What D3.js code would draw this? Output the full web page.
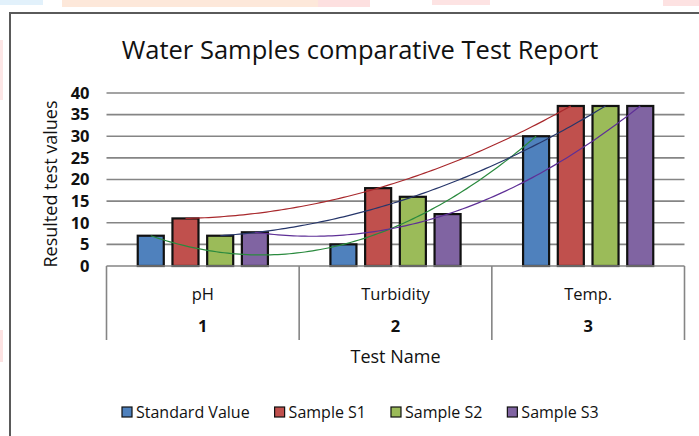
<!DOCTYPE html>
<html lang="en">
  <head>
    <meta charset="UTF-8">
    <script src="https://d3js.org/d3.v7.min.js"></script>
    <style>
      html,body{ margin:0; background:#fff; }
      text{ font-family:"Open Sans", sans-serif; fill:#111; }
    </style>
  </head>
  <body>
    <svg id="chart" width="699" height="436"></svg>
  </body>
</html>
<script>
// chart data
var categories = ["pH", "Turbidity", "Temp."];
var categoryNumbers = ["1", "2", "3"];
var seriesNames = ["Standard Value", "Sample S1", "Sample S2", "Sample S3"];
var standardValue = [7, 5, 30];
var sampleS1 = [11, 18, 37];
var sampleS2 = [7, 16, 37];
var sampleS3 = [7.8, 12, 37];
var yTicks = [0, 5, 10, 15, 20, 25, 30, 35, 40];

var seriesValues = [standardValue, sampleS1, sampleS2, sampleS3];
var barColors = ["#4f81bd", "#c0504d", "#9bbb59", "#8064a2"];
var trendColors = ["#2a8a3e", "#a8282c", "#26366a", "#5e2f96"];

var svg = d3.select("#chart");

// faint page background bits around the frame
var bg = [[0,0,43,5,"#e2f1fb"],[62,0,270,7,"#fde8da"],[318,0,52,7,"#fde0e0"],
          [432,0,58,5,"#fde3e3"],[663,0,36,6,"#fde2e2"],[0,40,3,60,"#fde6e6"],[0,330,3,32,"#fde2e2"]];
svg.selectAll("rect.bg").data(bg).enter().append("rect")
  .attr("x", d => d[0]).attr("y", d => d[1]).attr("width", d => d[2]).attr("height", d => d[3])
  .attr("fill", d => d[4]);

svg.append("rect").attr("x", 10).attr("y", 13).attr("width", 720).attr("height", 450)
  .attr("fill", "#fff").attr("stroke", "#5a5a5a").attr("stroke-width", 2);

var plotLeft = 106.5, plotRight = 684.5, plotTop = 93, plotBottom = 266;

var y = d3.scaleLinear().domain([0, 40]).range([plotBottom, plotTop]);
var x = d3.scaleBand().domain(categories).range([plotLeft, plotRight]);
var xs = d3.scaleBand().domain(seriesNames).range([0, x.bandwidth()])
  .paddingInner(0.25).paddingOuter(0.9);

// title
svg.append("text").attr("x", 360).attr("y", 59).attr("text-anchor", "middle")
  .style("font-size", "25.5px").text("Water Samples comparative Test Report");

// gridlines
svg.append("g").selectAll("line").data(yTicks.slice(1)).enter().append("line")
  .attr("x1", plotLeft).attr("x2", plotRight)
  .attr("y1", d => y(d)).attr("y2", d => y(d))
  .attr("stroke", "#858585").attr("stroke-width", 1.6);

// y axis labels
var yAxis = svg.append("g").attr("transform", "translate(" + (plotLeft - 17) + ",0)")
  .call(d3.axisLeft(y).tickValues(yTicks).tickSize(0).tickPadding(0));
yAxis.select(".domain").remove();
yAxis.selectAll("text").style("font-size", "16.5px").style("font-weight", "bold")
  .style("font-family", "'Open Sans', sans-serif").attr("fill", "#111");

svg.append("text").attr("transform", "translate(57,184) rotate(-90)")
  .attr("text-anchor", "middle").style("font-size", "18px").text("Resulted test values");

// bars
var groups = svg.append("g").selectAll("g").data(seriesNames).enter().append("g");
groups.selectAll("rect").data((s, i) => categories.map((c, j) => ({s: s, c: c, v: seriesValues[i][j], i: i})))
  .enter().append("rect")
  .attr("x", d => x(d.c) + xs(d.s))
  .attr("y", d => y(d.v))
  .attr("width", xs.bandwidth())
  .attr("height", d => y(0) - y(d.v))
  .attr("fill", d => barColors[d.i])
  .attr("stroke", "#111").attr("stroke-width", 2.2);

// category axis (two levels)
svg.append("line").attr("x1", plotLeft).attr("x2", plotRight)
  .attr("y1", plotBottom).attr("y2", plotBottom).attr("stroke", "#858585").attr("stroke-width", 1.6);
var edges = categories.map(c => x(c)).concat([plotRight]);
svg.append("g").selectAll("line").data(edges).enter().append("line")
  .attr("x1", d => d).attr("x2", d => d).attr("y1", plotBottom).attr("y2", 340)
  .attr("stroke", "#858585").attr("stroke-width", 1.6);
svg.append("g").selectAll("text").data(categories).enter().append("text")
  .attr("x", d => x(d) + x.bandwidth() / 2).attr("y", 300).attr("text-anchor", "middle")
  .style("font-size", "16.5px").text(d => d);
svg.append("g").selectAll("text").data(categoryNumbers).enter().append("text")
  .attr("x", (d, i) => x(categories[i]) + x.bandwidth() / 2).attr("y", 332).attr("text-anchor", "middle")
  .style("font-size", "16.5px").style("font-weight", "bold").text(d => d);
svg.append("text").attr("x", (plotLeft + plotRight) / 2).attr("y", 363).attr("text-anchor", "middle")
  .style("font-size", "18px").text("Test Name");

// polynomial (order 2) trendlines, fitted through each series
function quad(vals) {
  return function(t) {
    var l0 = (t - 1) * (t - 2) / 2, l1 = -t * (t - 2), l2 = t * (t - 1) / 2;
    return vals[0] * l0 + vals[1] * l1 + vals[2] * l2;
  };
}
var tSteps = d3.range(0, 2.0001, 0.02);
seriesNames.forEach(function(s, i) {
  var f = quad(seriesValues[i]);
  var x0 = x(categories[0]) + xs(s) + xs.bandwidth() / 2;
  var line = d3.line().x(t => x0 + t * x.step()).y(t => y(f(t)));
  svg.append("path").datum(tSteps).attr("d", line)
    .attr("fill", "none").attr("stroke", trendColors[i]).attr("stroke-width", 1.2);
});

// legend
var legend = svg.append("g").attr("transform", "translate(122,412)");
var lx = 0;
seriesNames.forEach(function(s, i) {
  var g = legend.append("g").attr("transform", "translate(" + lx + ",0)");
  g.append("rect").attr("x", 0).attr("y", -5).attr("width", 10).attr("height", 10)
    .attr("fill", barColors[i]).attr("stroke", "#111").attr("stroke-width", 1.2);
  var t = g.append("text").attr("x", 14).attr("y", 6).style("font-size", "16px").text(s);
  lx += 14 + t.node().getComputedTextLength() + 25;
});
</script>
